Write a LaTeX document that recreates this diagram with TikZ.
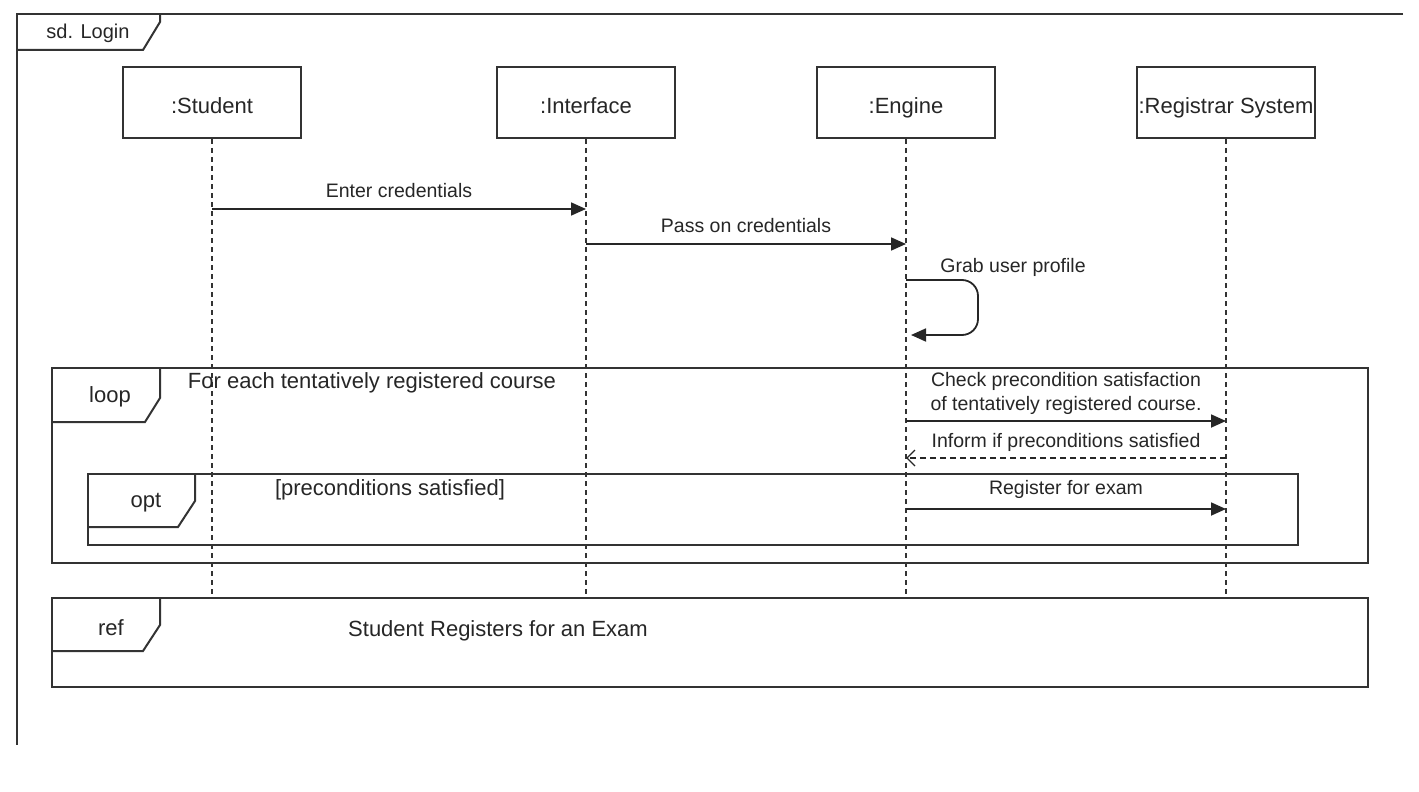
\documentclass[tikz,border=0pt]{standalone}
\usepackage{fontspec}
\setmainfont{Liberation Sans}
\usetikzlibrary{arrows.meta,positioning,calc}
\tikzset{
  lifebox/.style  = {shape=rectangle, draw=black!80, line width=1pt,
                     minimum width=89pt, minimum height=35.5pt, inner sep=1pt,
                     text height=11pt, text depth=0.5pt,
                     text=black!85, font=\fontsize{11}{13}\selectfont},
  lifeline/.style = {draw=black!80, line width=0.8pt, dash pattern=on 2.5pt off 2pt},
  msg/.style      = {draw=black!85, line width=0.9pt,
                     -{Triangle[length=7.5pt,width=6.5pt]}},
  reply/.style    = {draw=black!85, line width=0.7pt, dash pattern=on 3pt off 2pt,
                     -{Straight Barb[length=4pt,width=8pt]}},
  msglabel/.style = {font=\fontsize{9.75}{12}\selectfont, text=black!85,
                     inner sep=2pt, align=center},
  fragment/.style = {draw=black!80, line width=1pt},
  fraglabel/.style= {font=\fontsize{11}{13}\selectfont, text=black!85}
}

\begin{document}
\begin{tikzpicture}[x=0.5pt, y=-0.5pt]
  \useasboundingbox (0,0) rectangle (1419,792);

  % outer frame
  \draw[fragment] (1403,14) -- (17,14) -- (17,745);
  \draw[fragment] (17,50) -- (143,50) -- (160,22) -- (160,14);
  \node[fraglabel, font=\fontsize{10}{12}\selectfont] (sdlbl) at (88,33) {sd. Login};

  % lifelines
  \node[lifebox] (stu) at (212,102.5) {:Student};
  \node[lifebox] (inf) at (586,102.5) {:Interface};
  \node[lifebox] (eng) at (906,102.5) {:Engine};
  \node[lifebox] (reg) at (1226,102.5) {:Registrar System};
  \coordinate (lineend) at (0,598);
  \foreach \who in {stu,inf,eng,reg}
    \draw[lifeline] (\who) -- (\who |- lineend);

  % message heights
  \coordinate (y-enter) at (0,209);
  \coordinate (y-pass)  at (0,244);
  \coordinate (y-grab)  at (0,280);
  \coordinate (y-grab2) at (0,335);
  \coordinate (y-check) at (0,421);
  \coordinate (y-inform) at (0,458);
  \coordinate (y-exam)  at (0,509);

  \draw[msg] (stu |- y-enter) -- node[msglabel, above=3pt] {Enter credentials} (inf |- y-enter);
  \draw[msg] (inf |- y-pass) -- node[msglabel, above=3pt] {Pass on credentials} (eng |- y-pass);
  \coordinate (grabback) at ($(eng |- y-grab2)+(5,0)$);
  \draw[msg, rounded corners=8pt] (eng |- y-grab) -- ++(72,0) |- (grabback);
  \node[msglabel, anchor=west] (grablbl) at (936,267) {Grab user profile};

  % loop fragment
  \draw[fragment] (52,368) rectangle (1368,563);
  \draw[fragment] (52,422) -- (145,422) -- (160,398) -- (160,368);
  \node[fraglabel] (looplbl) at (110,397) {loop};
  \node[fraglabel] (loopguard) at (372,383) {For each tentatively registered course};

  \draw[msg] (eng |- y-check) -- node[msglabel, above=1pt] {Check precondition satisfaction\\of tentatively registered course.} (reg |- y-check);
  \draw[reply] (reg |- y-inform) -- node[msglabel, above=1pt] {Inform if preconditions satisfied} (eng |- y-inform);

  % opt fragment
  \draw[fragment] (88,474) rectangle (1298,545);
  \draw[fragment] (88,527) -- (178,527) -- (195,501) -- (195,474);
  \node[fraglabel] (optlbl) at (146,503) {opt};
  \node[fraglabel] (optguard) at (390,490) {[preconditions satisfied]};
  \draw[msg] (eng |- y-exam) -- node[msglabel, above=3pt] {Register for exam} (reg |- y-exam);

  % ref fragment
  \draw[fragment] (52,598) rectangle (1368,687);
  \draw[fragment] (52,651) -- (143,651) -- (160,625) -- (160,598);
  \node[fraglabel] (reflbl) at (111,628) {ref};
  \node[fraglabel] (reftext) at (498,631) {Student Registers for an Exam};
\end{tikzpicture}
\end{document}
